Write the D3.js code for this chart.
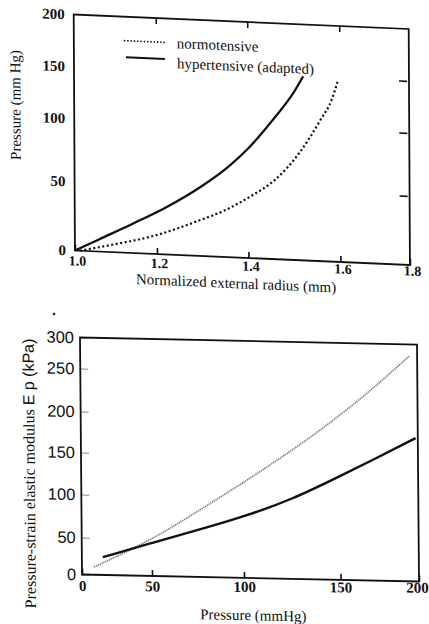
<!DOCTYPE html>
<html>
<head>
<meta charset="utf-8">
<script src="https://cdnjs.cloudflare.com/ajax/libs/d3/7.8.5/d3.min.js"></script>
<style>
  body { margin: 0; background: #fff; }
  svg { display: block; }
  text { font-family: "Liberation Serif", "Times New Roman", serif; fill: #111; }
</style>
</head>
<body>
<svg width="429" height="624"></svg>
<script>
// ---- panel A : pressure vs normalized external radius
var radiusTicks   = [1.0, 1.2, 1.4, 1.6, 1.8];
var pressureTicks = [0, 50, 100, 150, 200];
var normoRadius   = [1.012, 1.086, 1.200, 1.295, 1.35, 1.404, 1.458, 1.513, 1.557, 1.583, 1.597];
var normoPressure = [0, 5, 13.8, 26, 34, 44.5, 58, 81, 108, 129, 148];
var hyperRadius   = [1.0, 1.06, 1.14, 1.22, 1.30, 1.36, 1.40, 1.46, 1.50, 1.521];
var hyperPressure = [0, 9, 21, 34, 51, 68, 82, 110, 134, 150];
var legendLabels  = ['normotensive', 'hypertensive (adapted)'];

// ---- panel B : pressure-strain elastic modulus vs pressure
var loadTicks    = [0, 50, 100, 150, 200];
var modulusTicks = [0, 50, 100, 150, 200, 250, 300];
var normoLoad    = [8.6, 50, 76.4, 100, 125.9, 149.6, 174.4, 195];
var normoModulus = [10.4, 48.6, 85, 118, 158.5, 200, 238, 281];
var hyperLoad    = [15, 50, 76, 100, 126, 149, 174, 198.6];
var hyperModulus = [24, 44.6, 62, 78, 100, 127, 151, 176];

var svg = d3.select('svg');

// the scan is sheared and a bit curved, so each panel gets a skew
// and piecewise scales that follow the printed tick marks
var panelA = svg.append('g').attr('transform', 'matrix(1,0.0433,0.0053,1,73.7,14.5)');
var wA = 335, hA = 236;
var xA = d3.scaleLinear().domain(radiusTicks).range([0, 82, 173.5, 265.5, wA]);
var yA = d3.scaleLinear().domain(pressureTicks).range([hA, 167, 104, 52, 0]);

function styleAxis(g, size, weight, family) {
  g.attr('font-family', null).attr('font-size', null);
  g.select('.domain').remove();
  g.selectAll('.tick line').attr('stroke', '#111').attr('stroke-width', 1.6);
  g.selectAll('.tick text')
    .style('font-family', family || '"Liberation Serif", serif')
    .style('font-size', size + 'px')
    .style('font-weight', weight);
}

panelA.append('g')
  .attr('transform', 'translate(0,' + hA + ')')
  .call(d3.axisBottom(xA).tickValues(radiusTicks).tickSizeInner(-6).tickSizeOuter(0)
    .tickFormat(d3.format('.1f')))
  .call(styleAxis, 14, 'bold')
  .selectAll('.tick text')
    .attr('x', 2)
    .attr('y', function(d){ return 5 - xA(d) * 0.013; });

panelA.append('g')
  .call(d3.axisTop(xA).tickValues([1.2, 1.4, 1.6]).tickSizeInner(-6).tickSizeOuter(0).tickFormat(''))
  .call(styleAxis, 14, 'bold');

panelA.append('g')
  .call(d3.axisLeft(yA).tickValues(pressureTicks).tickSize(0).tickPadding(9))
  .call(styleAxis, 15, 'bold');

panelA.append('g')
  .attr('transform', 'translate(' + (wA - 2) + ',0)')
  .call(d3.axisRight(yA).tickValues([50, 100, 150]).tickSizeInner(-8).tickSizeOuter(0).tickFormat(''))
  .call(styleAxis, 14, 'bold');

panelA.append('rect')
  .attr('width', wA).attr('height', hA)
  .attr('fill', 'none').attr('stroke', '#111').attr('stroke-width', 1.8);

var lineA = d3.line()
  .x(function(d){ return xA(d[0]); })
  .y(function(d){ return yA(d[1]); })
  .curve(d3.curveMonotoneX);

panelA.append('path')
  .datum(d3.zip(normoRadius, normoPressure))
  .attr('d', lineA)
  .attr('fill', 'none').attr('stroke', '#111')
  .attr('stroke-width', 2.2).attr('stroke-dasharray', '2,2.6');

panelA.append('path')
  .datum(d3.zip(hyperRadius, hyperPressure))
  .attr('d', lineA)
  .attr('fill', 'none').attr('stroke', '#111').attr('stroke-width', 2.2);

// legend
var legend = panelA.append('g').attr('transform', 'translate(50,24)');
legend.selectAll('line').data(legendLabels).enter().append('line')
  .attr('x1', function(d, i){ return i ? 2 : 0; }).attr('x2', 41)
  .attr('y1', function(d, i){ return i * 16.5; }).attr('y2', function(d, i){ return i * 16.5; })
  .attr('stroke', '#111')
  .attr('stroke-width', function(d, i){ return i ? 2 : 1.6; })
  .attr('stroke-dasharray', function(d, i){ return i ? null : '1.5,1.8'; });
legend.selectAll('text').data(legendLabels).enter().append('text')
  .attr('x', 53).attr('y', function(d, i){ return i * 20; })
  .attr('dy', '0.35em')
  .style('font-size', '15px')
  .text(function(d){ return d; });

panelA.append('text')
  .attr('x', 161).attr('y', 261.5).attr('dy', '0.35em')
  .attr('text-anchor', 'middle').style('font-size', '15px')
  .text('Normalized external radius  (mm)');

panelA.append('text')
  .attr('transform', 'translate(-59,93) rotate(-90)')
  .attr('dy', '0.35em').attr('text-anchor', 'middle').style('font-size', '15px')
  .text('Pressure (mm Hg)');

// ---- panel B
var panelB = svg.append('g').attr('transform', 'matrix(1,0.0208,0.0085,1,80,337.5)');
var wB = 337, hB = 237;
var xB = d3.scaleLinear().domain(loadTicks).range([0, 70, 162, 258.5, wB]);
var yB = d3.scaleLinear().domain(modulusTicks).range([hB, 200, 157, 115, 74, 31, 0]);

panelB.append('g')
  .attr('transform', 'translate(0,' + hB + ')')
  .call(d3.axisBottom(xB).tickValues(loadTicks).tickSizeInner(-6).tickSizeOuter(0))
  .call(styleAxis, 15, 'bold')
  .selectAll('.tick text')
    .attr('y', function(d){ return 6 - xB(d) * 0.016; })
    .attr('x', function(d){ return d === 200 ? -2 : 0; });

panelB.append('g')
  .call(d3.axisLeft(yB).tickValues(modulusTicks).tickSizeInner(-8).tickSizeOuter(0).tickPadding(6))
  .call(styleAxis, 16.5, 'normal', '"Liberation Sans", Arial, sans-serif')
  .selectAll('.tick line').attr('stroke', '#888').attr('stroke-width', 1);

panelB.append('rect')
  .attr('width', wB).attr('height', hB)
  .attr('fill', 'none').attr('stroke', '#111').attr('stroke-width', 1.8);

var lineB = d3.line()
  .x(function(d){ return xB(d[0]); })
  .y(function(d){ return yB(d[1]); })
  .curve(d3.curveBasis);

panelB.append('path')
  .datum(d3.zip(normoLoad, normoModulus))
  .attr('d', lineB)
  .attr('fill', 'none').attr('stroke', '#777')
  .attr('stroke-width', 1.6).attr('stroke-dasharray', '1.3,0.8');

panelB.append('path')
  .datum(d3.zip(hyperLoad, hyperModulus))
  .attr('d', lineB)
  .attr('fill', 'none').attr('stroke', '#111').attr('stroke-width', 2.4);

panelB.append('text')
  .attr('x', 171).attr('y', 274).attr('dy', '0.35em')
  .attr('text-anchor', 'middle').style('font-size', '15px')
  .text('Pressure (mmHg)');

var yTitle = panelB.append('text')
  .attr('transform', 'translate(-52,137) rotate(-90)')
  .attr('dy', '0.35em').attr('text-anchor', 'middle').style('font-size', '16px');
yTitle.append('tspan').text('Pressure-strain elastic modulus ');
yTitle.append('tspan').style('font-family', '"Liberation Sans", Arial, sans-serif').text('E p (kPa)');

// stray speck on the scan
svg.append('circle').attr('cx', 54).attr('cy', 314).attr('r', 1.3).attr('fill', '#222');
</script>
</body>
</html>
